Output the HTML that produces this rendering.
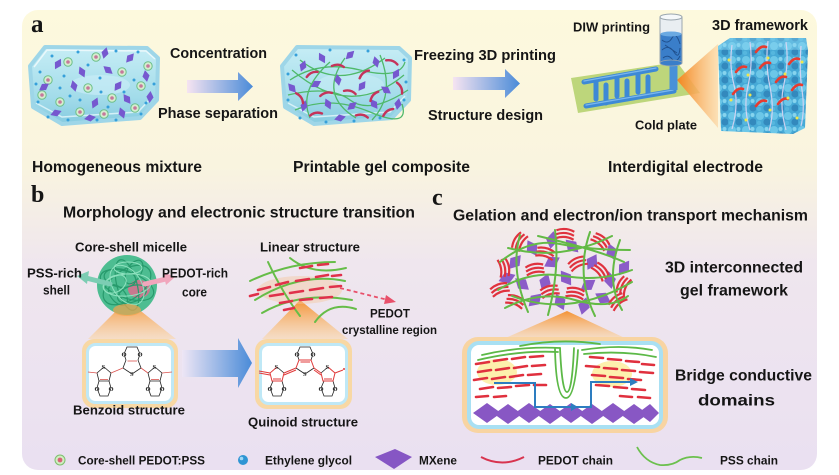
<!DOCTYPE html>
<html><head><meta charset="utf-8">
<style>
html,body{margin:0;padding:0;background:#fff;}
svg{display:block;}
text{font-family:"Liberation Sans",Arial,sans-serif;font-weight:bold;fill:#151515;}
text.sf{font-family:"Liberation Serif","DejaVu Serif",serif;font-weight:bold;}
text.ch{font-family:"Liberation Serif",serif;font-weight:bold;font-size:6.5px;fill:#222;}
</style></head><body>
<svg width="839" height="475" viewBox="0 0 839 475" xmlns="http://www.w3.org/2000/svg">
<defs>
 <linearGradient id="bg" x1="0" y1="0" x2="0" y2="1">
  <stop offset="0" stop-color="#fdf9dd"/>
  <stop offset="0.34" stop-color="#f9f4df"/>
  <stop offset="0.55" stop-color="#efe6ee"/>
  <stop offset="1" stop-color="#eae0f1"/>
 </linearGradient>
 <linearGradient id="arr" x1="0" y1="0" x2="1" y2="0">
  <stop offset="0" stop-color="#f6e4f1"/>
  <stop offset="1" stop-color="#4a8bd8"/>
 </linearGradient>
 <linearGradient id="arrb" x1="0" y1="0" x2="1" y2="0">
  <stop offset="0" stop-color="#eee6f5"/>
  <stop offset="1" stop-color="#4a8bd8"/>
 </linearGradient>
 <linearGradient id="glass" x1="0" y1="0" x2="0" y2="1">
  <stop offset="0" stop-color="#c6edf5"/>
  <stop offset="0.65" stop-color="#a3dcea"/>
  <stop offset="1" stop-color="#86cbe0"/>
 </linearGradient>
 <linearGradient id="beam" x1="0" y1="0" x2="0" y2="1">
  <stop offset="0" stop-color="#f48f2c" stop-opacity="0.95"/>
  <stop offset="1" stop-color="#fbd7a6" stop-opacity="0.55"/>
 </linearGradient>
 <linearGradient id="beamh" x1="0" y1="0" x2="1" y2="0">
  <stop offset="0" stop-color="#f4861f"/>
  <stop offset="1" stop-color="#fcd7a4" stop-opacity="0.7"/>
 </linearGradient>
 <pattern id="tex" width="14" height="14" patternUnits="userSpaceOnUse">
  <rect width="14" height="14" fill="#46a9d6"/>
  <circle cx="4" cy="4" r="4" fill="#6cc7e8"/>
  <circle cx="11" cy="10" r="3.6" fill="#3389bd"/>
  <circle cx="10.5" cy="3" r="2" fill="#86d4ee"/>
  <circle cx="3" cy="11" r="2.2" fill="#55b6de"/>
 </pattern>
 <polygon id="dm" points="0,-6 3.6,0 0,6 -3.6,0" fill="#7658cf"/>
 <polygon id="dmc" points="0,-9 6,0 0,9 -6,0" fill="#8b5cc8"/>
 <g id="rg"><circle r="4.2" fill="#d5edd0" stroke="#6cc088" stroke-width="1"/><circle r="1.8" fill="#c6789b"/></g>
 <circle id="dt" r="1.5" fill="#36a0da"/>
 <path id="ra" d="M-6,1 q6,-4 12,-1" fill="none" stroke="#c5335a" stroke-width="2.4" stroke-linecap="round"/>
 <path id="rb" d="M-9,-4 q9,-4 18,0 M-9,0 q9,-4 18,0 M-9,4 q9,-4 18,0" fill="none" stroke="#e0323e" stroke-width="2.2"/>
 <path id="hook" d="M0,0 q5,-7 10,-5" fill="none" stroke="#e63b30" stroke-width="2.6" stroke-linecap="round"/>
</defs>

<!-- panel background -->
<rect x="22" y="10" width="795" height="460" rx="16" fill="url(#bg)"/>

<!-- ================= PANEL A ================= -->
<text class="sf" x="31" y="32" font-size="25">a</text>

<!-- box 1 -->
<g>
 <path d="M30,66 L45,47 L147,48 L158,58 L157,100 L140,118 L62,124 L33,107 Z" fill="url(#glass)" stroke="#9ed6e8" stroke-width="4" stroke-linejoin="round"/>
 <path d="M36,103 L62,117 L138,112 L153,96" fill="none" stroke="#e6f7fb" stroke-width="1.5" opacity="0.8"/>
 <path d="M34,67 L47,50 L146,51 L155,59" fill="none" stroke="#eefafc" stroke-width="1.5" opacity="0.9"/>
 <ellipse cx="100" cy="85" rx="30" ry="10" fill="#cdeff8" opacity="0.6"/>
 <g>
  <use href="#rg" x="48" y="80"/><use href="#rg" x="68" y="62"/><use href="#rg" x="96" y="57"/>
  <use href="#rg" x="122" y="72"/><use href="#rg" x="141" y="86"/><use href="#rg" x="60" y="102"/>
  <use href="#rg" x="88" y="88"/><use href="#rg" x="112" y="98"/><use href="#rg" x="135" y="108"/>
  <use href="#rg" x="80" y="112"/><use href="#rg" x="104" y="114"/><use href="#rg" x="42" y="95"/>
  <use href="#rg" x="148" y="66"/>
 </g>
 <g>
  <use href="#dm" transform="translate(58,64) rotate(30)"/><use href="#dm" transform="translate(82,72) rotate(-25)"/>
  <use href="#dm" transform="translate(105,53) rotate(15)"/><use href="#dm" transform="translate(130,58) rotate(40)"/>
  <use href="#dm" transform="translate(146,76) rotate(-10)"/><use href="#dm" transform="translate(44,87) rotate(55)"/>
  <use href="#dm" transform="translate(74,86) rotate(-15)"/><use href="#dm" transform="translate(118,86) rotate(35)"/>
  <use href="#dm" transform="translate(127,99) rotate(-35)"/><use href="#dm" transform="translate(95,103) rotate(25)"/>
  <use href="#dm" transform="translate(56,113) rotate(70)"/><use href="#dm" transform="translate(122,113) rotate(-20)"/>
  <use href="#dm" transform="translate(150,97) rotate(5)"/><use href="#dm" transform="translate(90,118) rotate(80)"/>
  <use href="#dm" transform="translate(108,70) rotate(-50)"/>
 </g>
 <g>
  <use href="#dt" x="40" y="72"/><use href="#dt" x="52" y="56"/><use href="#dt" x="78" y="52"/>
  <use href="#dt" x="88" y="65"/><use href="#dt" x="116" y="51"/><use href="#dt" x="138" y="52"/>
  <use href="#dt" x="36" y="84"/><use href="#dt" x="64" y="76"/><use href="#dt" x="100" y="78"/>
  <use href="#dt" x="134" y="80"/><use href="#dt" x="154" y="84"/><use href="#dt" x="38" y="102"/>
  <use href="#dt" x="70" y="96"/><use href="#dt" x="101" y="92"/><use href="#dt" x="124" y="92"/>
  <use href="#dt" x="146" y="103"/><use href="#dt" x="48" y="117"/><use href="#dt" x="68" y="120"/>
  <use href="#dt" x="97" y="120"/><use href="#dt" x="116" y="120"/><use href="#dt" x="141" y="114"/>
  <use href="#dt" x="80" y="100"/><use href="#dt" x="108" y="107"/><use href="#dt" x="60" y="88"/>
 </g>
</g>

<text x="170" y="58" font-size="14.3" textLength="97" lengthAdjust="spacingAndGlyphs">Concentration</text>
<polygon points="187,80 238,80 238,72 253,86.5 238,101 238,93 187,93" fill="url(#arr)"/>
<text x="158" y="118" font-size="14.3" textLength="120" lengthAdjust="spacingAndGlyphs">Phase separation</text>

<!-- box 2 -->
<g>
 <path d="M282,66 L297,47 L399,48 L410,58 L409,100 L392,118 L314,124 L285,107 Z" fill="url(#glass)" stroke="#9ed6e8" stroke-width="4" stroke-linejoin="round"/>
 <path d="M288,103 L314,117 L390,112 L405,96" fill="none" stroke="#e6f7fb" stroke-width="1.5" opacity="0.8"/>
 <ellipse cx="350" cy="85" rx="34" ry="12" fill="#cdeff8" opacity="0.5"/>
 <g fill="none" stroke="#4fb96a" stroke-width="1.3">
  <path d="M290,80 Q320,60 360,70 T405,62"/>
  <path d="M288,95 Q330,85 350,100 T408,90"/>
  <path d="M295,110 Q330,95 370,112 T402,104"/>
  <path d="M300,60 Q340,92 385,58"/>
  <path d="M310,118 Q298,90 330,62"/>
  <path d="M372,120 Q396,95 380,55"/>
  <path d="M345,58 Q318,95 356,118"/>
  <path d="M292,70 Q350,120 404,75"/>
 </g>
 <g>
  <use href="#dm" transform="translate(303,66) rotate(20)"/><use href="#dm" transform="translate(322,58) rotate(-30)"/>
  <use href="#dm" transform="translate(350,55) rotate(45)"/><use href="#dm" transform="translate(376,62) rotate(-15)"/>
  <use href="#dm" transform="translate(396,74) rotate(30)"/><use href="#dm" transform="translate(292,88) rotate(-40)"/>
  <use href="#dm" transform="translate(316,84) rotate(60)"/><use href="#dm" transform="translate(338,80) rotate(-10)"/>
  <use href="#dm" transform="translate(362,86) rotate(35)"/><use href="#dm" transform="translate(386,90) rotate(-55)"/>
  <use href="#dm" transform="translate(304,106) rotate(15)"/><use href="#dm" transform="translate(328,104) rotate(-25)"/>
  <use href="#dm" transform="translate(352,106) rotate(50)"/><use href="#dm" transform="translate(374,104) rotate(-35)"/>
  <use href="#dm" transform="translate(398,104) rotate(10)"/><use href="#dm" transform="translate(340,118) rotate(75)"/>
 </g>
 <g>
  <use href="#ra" transform="translate(312,74) rotate(-20)"/><use href="#ra" transform="translate(338,66) rotate(10)"/>
  <use href="#ra" transform="translate(364,74) rotate(-35)"/><use href="#ra" transform="translate(392,62) rotate(25)"/>
  <use href="#ra" transform="translate(300,98) rotate(60)"/><use href="#ra" transform="translate(326,94) rotate(-10)"/>
  <use href="#ra" transform="translate(350,92) rotate(20)"/><use href="#ra" transform="translate(374,96) rotate(-45)"/>
  <use href="#ra" transform="translate(400,88) rotate(70)"/><use href="#ra" transform="translate(316,114) rotate(-5)"/>
  <use href="#ra" transform="translate(362,116) rotate(15)"/><use href="#ra" transform="translate(388,112) rotate(-30)"/>
 </g>
 <g>
  <use href="#dt" x="288" y="74"/><use href="#dt" x="296" y="55"/><use href="#dt" x="330" y="50"/>
  <use href="#dt" x="368" y="51"/><use href="#dt" x="404" y="60"/><use href="#dt" x="288" y="100"/>
  <use href="#dt" x="406" y="82"/><use href="#dt" x="300" y="118"/><use href="#dt" x="326" y="122"/>
  <use href="#dt" x="354" y="121"/><use href="#dt" x="380" y="118"/><use href="#dt" x="404" y="100"/>
 </g>
</g>

<text x="414" y="60" font-size="14.5" textLength="142" lengthAdjust="spacingAndGlyphs">Freezing 3D printing</text>
<polygon points="453,77 505,77 505,69 520,83.5 505,98 505,90 453,90" fill="url(#arr)"/>
<text x="428" y="120" font-size="14.5" textLength="115" lengthAdjust="spacingAndGlyphs">Structure design</text>

<!-- DIW printing scene -->
<text x="573" y="31.5" font-size="13" textLength="77" lengthAdjust="spacingAndGlyphs">DIW printing</text>
<polygon points="571,78 677,62 700,93 578,113" fill="#bdd67b"/>
<g fill="none" stroke-linecap="round" stroke-linejoin="round">
 <g stroke="#3d89d6" stroke-width="5">
  <path d="M584,82 L656,69"/>
  <path d="M586,106 L674,91 L674,66"/>
  <path d="M596,80 L596,99"/><path d="M617,76 L617,96"/><path d="M638,72 L638,92"/>
  <path d="M606,103 L606,85"/><path d="M627,99 L627,81"/><path d="M648,95 L648,77"/>
 </g>
 <g stroke="#82bdf0" stroke-width="1.3" opacity="0.9">
  <path d="M584,81 L656,68"/><path d="M586,105 L673,90"/>
 </g>
</g>
<polygon points="677,80 718,44 718,128" fill="url(#beamh)"/>
<!-- syringe -->
<rect x="669.5" y="62" width="8" height="28" fill="#4891d8"/>
<rect x="660" y="17" width="22" height="46" fill="#e9eef2" stroke="#9aa6ae" stroke-width="1"/>
<rect x="660.5" y="34" width="21" height="29" fill="#3a7ec9"/>
<path d="M662,40 q6,5 10,-2 t8,6 M662,50 q7,-6 12,2 t6,-4 M663,58 q5,-4 9,1 t8,-3 M665,45 l12,8" fill="none" stroke="#1f4f8c" stroke-width="0.9"/>
<ellipse cx="671" cy="34" rx="10.5" ry="2.5" fill="#6aa9e2"/>
<ellipse cx="671" cy="63" rx="11" ry="3" fill="#3a7ec9" stroke="#9aa6ae" stroke-width="0.8"/>
<ellipse cx="671" cy="17" rx="11" ry="3" fill="#f5f8fa" stroke="#9aa6ae" stroke-width="1"/>
<text x="635" y="129.5" font-size="12.8" textLength="62" lengthAdjust="spacingAndGlyphs">Cold plate</text>

<!-- 3D framework cube -->
<text x="712" y="30" font-size="14.8" textLength="96" lengthAdjust="spacingAndGlyphs">3D framework</text>
<polygon points="718,46 730,38 806,38 808,50 805,128 793,134 721,131" fill="url(#tex)"/>
<polygon points="718,46 730,38 806,38 808,50 796,50 720,50" fill="#8fd8f2" opacity="0.4"/>
<g fill="none" stroke="#dcd6f4" stroke-width="1.2" opacity="0.9">
 <path d="M732,45 q-3,20 2,40 t-2,44"/>
 <path d="M750,42 q3,22 -2,44 t2,44"/>
 <path d="M768,41 q-3,22 2,46 t-1,44"/>
 <path d="M786,42 q3,20 -2,42 t2,46"/>
 <path d="M801,46 q-2,24 1,44 t-1,36"/>
</g>
<g>
 <use href="#hook" transform="translate(756,52)"/><use href="#hook" transform="translate(789,64)"/>
 <use href="#hook" transform="translate(736,72)"/><use href="#hook" transform="translate(760,68)"/>
 <use href="#hook" transform="translate(776,82)"/><use href="#hook" transform="translate(733,94)"/>
 <use href="#hook" transform="translate(756,106)"/><use href="#hook" transform="translate(778,104)"/>
 <use href="#hook" transform="translate(792,90)"/>
</g>
<g fill="#f0e64a">
 <circle cx="729" cy="60" r="1.5"/><circle cx="748" cy="75" r="1.5"/><circle cx="768" cy="58" r="1.5"/>
 <circle cx="785" cy="74" r="1.5"/><circle cx="802" cy="62" r="1.5"/><circle cx="731" cy="100" r="1.5"/>
 <circle cx="750" cy="95" r="1.5"/><circle cx="770" cy="110" r="1.5"/><circle cx="788" cy="98" r="1.5"/>
 <circle cx="746" cy="120" r="1.5"/><circle cx="797" cy="118" r="1.5"/>
</g>

<text x="32" y="172" font-size="15.6" textLength="170" lengthAdjust="spacingAndGlyphs">Homogeneous mixture</text>
<text x="293" y="172" font-size="15.4" textLength="177" lengthAdjust="spacingAndGlyphs">Printable gel composite</text>
<text x="608" y="172" font-size="15.5" textLength="155" lengthAdjust="spacingAndGlyphs">Interdigital electrode</text>

<!-- ================= PANEL B ================= -->
<text class="sf" x="31" y="202" font-size="24">b</text>
<text x="63" y="217.5" font-size="15.8" textLength="352" lengthAdjust="spacingAndGlyphs">Morphology and electronic structure transition</text>
<text x="75" y="251.5" font-size="13" textLength="112" lengthAdjust="spacingAndGlyphs">Core-shell micelle</text>
<text x="260" y="251.5" font-size="13" textLength="100" lengthAdjust="spacingAndGlyphs">Linear structure</text>

<!-- orange beams -->
<polygon points="127,300 88,339 176,339" fill="url(#beam)"/>
<polygon points="300,300 262,339 348,339" fill="url(#beam)"/>
<polygon points="567,311 503,339 627,339" fill="url(#beam)"/>

<!-- micelle -->
<g>
 <circle cx="127" cy="285" r="30" fill="#4dbd91"/>
 <ellipse cx="139" cy="289" rx="11" ry="9" fill="#dd6d8e" opacity="0.85"/>
 <g fill="none" stroke="#279a6c" stroke-width="1.2">
  <ellipse cx="127" cy="285" rx="28" ry="13" transform="rotate(20 127 285)"/>
  <ellipse cx="127" cy="285" rx="27" ry="15" transform="rotate(-35 127 285)"/>
  <ellipse cx="127" cy="285" rx="26" ry="10" transform="rotate(75 127 285)"/>
  <ellipse cx="120" cy="278" rx="16" ry="9" transform="rotate(10 120 278)"/>
  <ellipse cx="132" cy="294" rx="15" ry="8" transform="rotate(-20 132 294)"/>
  <ellipse cx="118" cy="295" rx="12" ry="7" transform="rotate(50 118 295)"/>
  <ellipse cx="134" cy="272" rx="13" ry="7" transform="rotate(-60 134 272)"/>
 </g>
 <g fill="none" stroke="#8fe2bf" stroke-width="1">
  <ellipse cx="127" cy="285" rx="24" ry="11" transform="rotate(-5 127 285)"/>
  <ellipse cx="127" cy="285" rx="22" ry="14" transform="rotate(55 127 285)"/>
  <ellipse cx="115" cy="284" rx="12" ry="8" transform="rotate(-30 115 284)"/>
  <ellipse cx="128" cy="268" rx="14" ry="6"/>
 </g>
 <ellipse cx="127" cy="310" rx="14" ry="6" fill="#f6a24a" opacity="0.7"/>
</g>
<!-- micelle arrows -->
<path d="M110,284 L86,278" stroke="#7ccdb3" stroke-width="5" stroke-linecap="round"/>
<polygon points="77,276 89,271 87,284" fill="#7ccdb3"/>
<path d="M145,284 L166,279" stroke="#f1a6bc" stroke-width="5" stroke-linecap="round"/>
<polygon points="175,277 163,272 166,285" fill="#f1a6bc"/>
<text x="27" y="277.5" font-size="12.8" textLength="55" lengthAdjust="spacingAndGlyphs">PSS-rich</text>
<text x="43" y="294.5" font-size="12.8" textLength="27" lengthAdjust="spacingAndGlyphs">shell</text>
<text x="162" y="277.5" font-size="12.8" textLength="66" lengthAdjust="spacingAndGlyphs">PEDOT-rich</text>
<text x="182" y="296.5" font-size="12.8" textLength="25" lengthAdjust="spacingAndGlyphs">core</text>

<!-- linear structure -->
<ellipse cx="300" cy="290" rx="42" ry="14" fill="#f5c7a0" opacity="0.45"/>
<g fill="none" stroke="#66bd48" stroke-width="2" stroke-linecap="round">
 <path d="M250,281 Q290,262 335,262"/>
 <path d="M255,300 Q300,272 345,281"/>
 <path d="M262,313 Q300,291 352,300"/>
 <path d="M268,262 Q282,292 300,316"/>
 <path d="M315,322 Q330,301 356,309"/>
 <path d="M290,258 Q312,276 346,268"/>
</g>
<g stroke="#e0314a" stroke-width="2.6" stroke-linecap="round">
 <path d="M258,290 l12,-3"/><path d="M276,285 l12,-3"/><path d="M296,281 l13,-2"/><path d="M316,277 l12,-2"/>
 <path d="M270,296 l13,-2"/><path d="M290,293 l13,-2"/><path d="M310,290 l13,-2"/><path d="M330,287 l11,-1"/>
 <path d="M280,303 l12,-2"/><path d="M300,300 l12,-1"/><path d="M320,298 l12,-1"/>
 <path d="M300,268 l12,-2"/><path d="M318,265 l10,-1"/><path d="M284,310 l10,-2"/>
 <path d="M250,296 l8,-2"/><path d="M332,276 l9,-1"/>
</g>
<path d="M340,288 L388,300" stroke="#e8506a" stroke-width="1.8" stroke-dasharray="4 3" fill="none"/>
<polygon points="396,302 386,295 384,304" fill="#e8506a"/>
<text x="370" y="317.5" font-size="12" textLength="40" lengthAdjust="spacingAndGlyphs">PEDOT</text>
<text x="342" y="334" font-size="11.6" textLength="95" lengthAdjust="spacingAndGlyphs">crystalline region</text>

<!-- big blue arrow b -->
<polygon points="182,350 238,350 238,338 252,363 238,388 238,377 182,377" fill="url(#arrb)"/>

<!-- benzoid box -->
<rect x="82" y="339" width="96" height="69" rx="12" fill="#f8d8a4"/>
<rect x="87.5" y="344.5" width="85" height="58" rx="8" fill="#fff" stroke="#bfe8f6" stroke-width="3"/>
<g fill="none" stroke-width="0.8">
 <g stroke="#222">
  <path d="M126,360 L124,354 L127,347 L137,347 L140,354 L138,360"/>
  <path d="M138,360 L141,368 L132,374 L123,368 L126,360"/>
  <path d="M104,367 L111,373 L109,381 L99,381 L97,373 Z"/>
  <path d="M99,381 L97,388 L100,396 L108,396 L111,388 L109,381"/>
  <path d="M155,367 L162,373 L160,381 L150,381 L148,373 Z"/>
  <path d="M150,381 L148,388 L151,396 L159,396 L162,388 L160,381"/>
 </g>
 <g stroke="#d9534f">
  <path d="M111,373 L123,368"/><path d="M141,368 L148,373"/>
  <path d="M88,372 L97,373"/><path d="M162,373 L172,372"/>
  <path d="M127.5,361 L137,361"/><path d="M100,379.5 L108,379.5"/><path d="M151,379.5 L159,379.5"/>
 </g>
</g>
<g>
 <text class="ch" x="121.5" y="356.5">O</text><text class="ch" x="137.5" y="356.5">O</text>
 <text class="ch" x="130" y="376">S</text>
 <text class="ch" x="101.5" y="369">S</text><text class="ch" x="152.5" y="369">S</text>
 <text class="ch" x="94.5" y="391">O</text><text class="ch" x="108.5" y="391">O</text>
 <text class="ch" x="145.5" y="391">O</text><text class="ch" x="159.5" y="391">O</text>
</g>
<text x="73" y="414.5" font-size="13.2" textLength="112" lengthAdjust="spacingAndGlyphs">Benzoid structure</text>

<!-- quinoid box -->
<rect x="255" y="339" width="97" height="70" rx="12" fill="#f8d8a4"/>
<rect x="260.5" y="344.5" width="86" height="59" rx="8" fill="#fff" stroke="#bfe8f6" stroke-width="3"/>
<g transform="translate(173,0)" fill="none" stroke-width="0.8">
 <g stroke="#222">
  <path d="M126,360 L124,354 L127,347 L137,347 L140,354 L138,360"/>
  <path d="M100,381 L97,388 L100,396 L108,396 L111,388 L109,381"/>
  <path d="M151,381 L148,388 L151,396 L159,396 L162,388 L160,381"/>
  <path d="M141,368 L132,374 L123,368"/>
  <path d="M104,367 L111,373"/><path d="M155,367 L148,373"/>
 </g>
 <g stroke="#e03a3a" stroke-width="1">
  <path d="M138,360 L141,368 M123,368 L126,360 L138,360"/>
  <path d="M111,373 L109,381 L99,381 L97,373 L104,367"/>
  <path d="M162,373 L160,381 L150,381 L148,373 M155,367 L162,373"/>
  <path d="M111,373 L123,368 M111,375 L123,370"/><path d="M141,368 L148,373 M141,370 L148,375"/>
  <path d="M86,371 L97,373 M86,373 L97,375"/><path d="M162,373 L170,370"/>
  <path d="M127.5,362 L137,362"/><path d="M100,379 L108,379"/><path d="M151,379 L159,379"/>
 </g>
 <circle cx="171" cy="369" r="1" fill="#e03a3a"/>
</g>
<g>
 <text class="ch" x="294.5" y="356.5">O</text><text class="ch" x="310.5" y="356.5">O</text>
 <text class="ch" x="303" y="376">S</text>
 <text class="ch" x="274.5" y="369">S</text><text class="ch" x="325.5" y="369">S</text>
 <text class="ch" x="267.5" y="391">O</text><text class="ch" x="281.5" y="391">O</text>
 <text class="ch" x="318.5" y="391">O</text><text class="ch" x="332.5" y="391">O</text>
</g>
<text x="248" y="426.5" font-size="13.2" textLength="110" lengthAdjust="spacingAndGlyphs">Quinoid structure</text>

<!-- ================= PANEL C ================= -->
<text class="sf" x="432" y="205" font-size="24">c</text>
<text x="453" y="220.5" font-size="15.8" textLength="355" lengthAdjust="spacingAndGlyphs">Gelation and electron/ion transport mechanism</text>

<!-- network -->
<g>
 <g>
  <use href="#dmc" transform="translate(515,262) rotate(40)"/><use href="#dmc" transform="translate(532,248) rotate(-30)"/>
  <use href="#dmc" transform="translate(552,262) rotate(60)"/><use href="#dmc" transform="translate(572,246) rotate(-45)"/>
  <use href="#dmc" transform="translate(592,262) rotate(30)"/><use href="#dmc" transform="translate(612,252) rotate(-20)"/>
  <use href="#dmc" transform="translate(522,284) rotate(-50)"/><use href="#dmc" transform="translate(545,282) rotate(20)"/>
  <use href="#dmc" transform="translate(566,278) rotate(-35)"/><use href="#dmc" transform="translate(588,285) rotate(55)"/>
  <use href="#dmc" transform="translate(610,280) rotate(-10)"/><use href="#dmc" transform="translate(535,300) rotate(45)"/>
  <use href="#dmc" transform="translate(560,302) rotate(-25)"/><use href="#dmc" transform="translate(584,306) rotate(15)"/>
  <use href="#dmc" transform="translate(603,298) rotate(-60)"/><use href="#dmc" transform="translate(552,240) rotate(10)"/>
  <use href="#dmc" transform="translate(507,278) rotate(70)"/><use href="#dmc" transform="translate(624,268) rotate(35)"/>
 </g>
 <g>
  <use href="#rb" transform="translate(520,242) rotate(-60)"/><use href="#rb" transform="translate(545,254) rotate(15)"/>
  <use href="#rb" transform="translate(600,242) rotate(40)"/><use href="#rb" transform="translate(578,264) rotate(-25)"/>
  <use href="#rb" transform="translate(503,268) rotate(80)"/><use href="#rb" transform="translate(535,270) rotate(-10)"/>
  <use href="#rb" transform="translate(624,286) rotate(-65)"/><use href="#rb" transform="translate(600,272) rotate(50)"/>
  <use href="#rb" transform="translate(515,302) rotate(20)"/><use href="#rb" transform="translate(550,292) rotate(-15)"/>
  <use href="#rb" transform="translate(575,294) rotate(10)"/><use href="#rb" transform="translate(618,302) rotate(-40)"/>
  <use href="#rb" transform="translate(565,235) rotate(5)"/><use href="#rb" transform="translate(500,290) rotate(-20)"/>
 </g>
 <g fill="none" stroke="#63ba45" stroke-width="2" stroke-linecap="round">
  <path d="M500,262 Q530,238 560,244 T630,250"/>
  <path d="M498,290 Q530,270 565,276 T632,270"/>
  <path d="M505,308 Q540,290 575,300 T628,296"/>
  <path d="M520,235 Q510,270 528,312"/>
  <path d="M555,230 Q560,270 548,315"/>
  <path d="M590,232 Q575,275 595,316"/>
  <path d="M620,240 Q605,280 622,310"/>
  <path d="M508,248 Q560,262 612,236"/>
  <path d="M512,296 Q570,318 632,282"/>
  <path d="M538,236 Q598,250 624,262"/>
 </g>
</g>
<text x="665" y="272.5" font-size="16" textLength="138" lengthAdjust="spacingAndGlyphs">3D interconnected</text>
<text x="680" y="295.5" font-size="16" textLength="108" lengthAdjust="spacingAndGlyphs">gel framework</text>

<!-- box c -->
<rect x="462" y="337" width="206" height="96" rx="16" fill="#f8d4a2"/>
<rect x="469" y="343" width="192" height="84" rx="10" fill="#fff" stroke="#a9e0f3" stroke-width="4"/>
<ellipse cx="497" cy="372" rx="20" ry="13" fill="#fbe46a" opacity="0.55"/>
<ellipse cx="612" cy="374" rx="20" ry="13" fill="#fbe46a" opacity="0.55"/>
<g fill="#8857c4">
 <polygon points="473,413 487,403 501,413 487,423"/>
 <polygon points="494,414 508,404 522,414 508,424"/>
 <polygon points="515,413 529,403 543,413 529,423"/>
 <polygon points="536,414 550,404 564,414 550,424"/>
 <polygon points="557,413 571,403 585,413 571,423"/>
 <polygon points="578,414 592,404 606,414 592,424"/>
 <polygon points="599,413 613,403 627,413 613,423"/>
 <polygon points="620,414 634,404 648,414 634,424"/>
 <polygon points="638,413 650,404 659,413 650,422"/>
</g>
<g stroke="#e0303e" stroke-width="2.6" stroke-linecap="round">
 <path d="M476,364 l13,-2"/><path d="M494,361 l13,-2"/><path d="M512,359 l13,-2"/><path d="M530,357 l13,-1"/><path d="M590,357 l13,1"/><path d="M608,359 l13,1"/><path d="M626,361 l13,1"/><path d="M642,364 l12,1"/>
 <path d="M478,372 l13,-2"/><path d="M496,370 l13,-2"/><path d="M514,368 l13,-2"/><path d="M532,366 l13,-1"/><path d="M586,366 l13,1"/><path d="M604,368 l13,1"/><path d="M622,370 l13,1"/><path d="M640,372 l13,1"/>
 <path d="M474,380 l13,-2"/><path d="M492,379 l13,-2"/><path d="M510,377 l13,-2"/><path d="M528,375 l13,-1"/><path d="M592,375 l13,1"/><path d="M610,377 l13,1"/><path d="M628,379 l13,1"/>
 <path d="M480,389 l13,-2"/><path d="M498,388 l13,-1"/><path d="M516,386 l13,-1"/><path d="M534,385 l12,0"/><path d="M596,385 l13,1"/><path d="M614,387 l13,1"/><path d="M632,389 l13,1"/>
 <path d="M476,397 l12,-1"/><path d="M494,397 l12,-1"/><path d="M620,396 l12,1"/><path d="M638,397 l12,1"/>
</g>
<g fill="none" stroke="#5cb947" stroke-width="1.8" stroke-linecap="round">
 <path d="M478,360 Q520,350 558,352"/>
 <path d="M482,355 Q520,346 560,348"/>
 <path d="M582,350 Q620,344 652,350"/>
 <path d="M584,354 Q622,350 656,357"/>
 <path d="M555,349 Q556,398 566,398 Q575,398 578,350"/>
 <path d="M560,348 Q562,392 567,392 Q572,392 574,348"/>
 <path d="M520,346 Q560,338 600,344"/>
</g>
<polyline points="494,383 535,383 535,407 591,407 591,382 632,382" fill="none" stroke="#2d7dc0" stroke-width="2"/>
<polygon points="578,407 571,403 571,411" fill="#2d7dc0"/>
<polygon points="638,382 630,378 630,386" fill="#2d7dc0"/>

<text x="675" y="380.5" font-size="15.7" textLength="137" lengthAdjust="spacingAndGlyphs">Bridge conductive</text>
<text x="698" y="405.5" font-size="15.7" textLength="77" lengthAdjust="spacingAndGlyphs">domains</text>

<!-- ================= LEGEND ================= -->
<circle cx="60" cy="460" r="5" fill="#d2ebc2" stroke="#7cc06e" stroke-width="1"/>
<circle cx="60" cy="460" r="2.4" fill="#d9607a"/>
<text x="78" y="464.5" font-size="12" textLength="127" lengthAdjust="spacingAndGlyphs">Core-shell PEDOT:PSS</text>
<circle cx="243" cy="460" r="5" fill="#2f95d4"/>
<circle cx="241.5" cy="458.5" r="1.8" fill="#9fd8f5"/>
<text x="265" y="464.5" font-size="12" textLength="87" lengthAdjust="spacingAndGlyphs">Ethylene glycol</text>
<polygon points="375,457 395,449 412,457 394,469" fill="#8656c4"/>
<text x="419" y="464.5" font-size="12" textLength="38" lengthAdjust="spacingAndGlyphs">MXene</text>
<path d="M481,457 Q502,468 524,457" fill="none" stroke="#d8344f" stroke-width="2"/>
<text x="538" y="464.5" font-size="12" textLength="75" lengthAdjust="spacingAndGlyphs">PEDOT chain</text>
<path d="M637,447 Q645,462 660,465 Q672,466 680,460 Q690,455 702,458" fill="none" stroke="#6cc04e" stroke-width="1.8"/>
<text x="720" y="464.5" font-size="12" textLength="58" lengthAdjust="spacingAndGlyphs">PSS chain</text>
</svg>
</body></html>
